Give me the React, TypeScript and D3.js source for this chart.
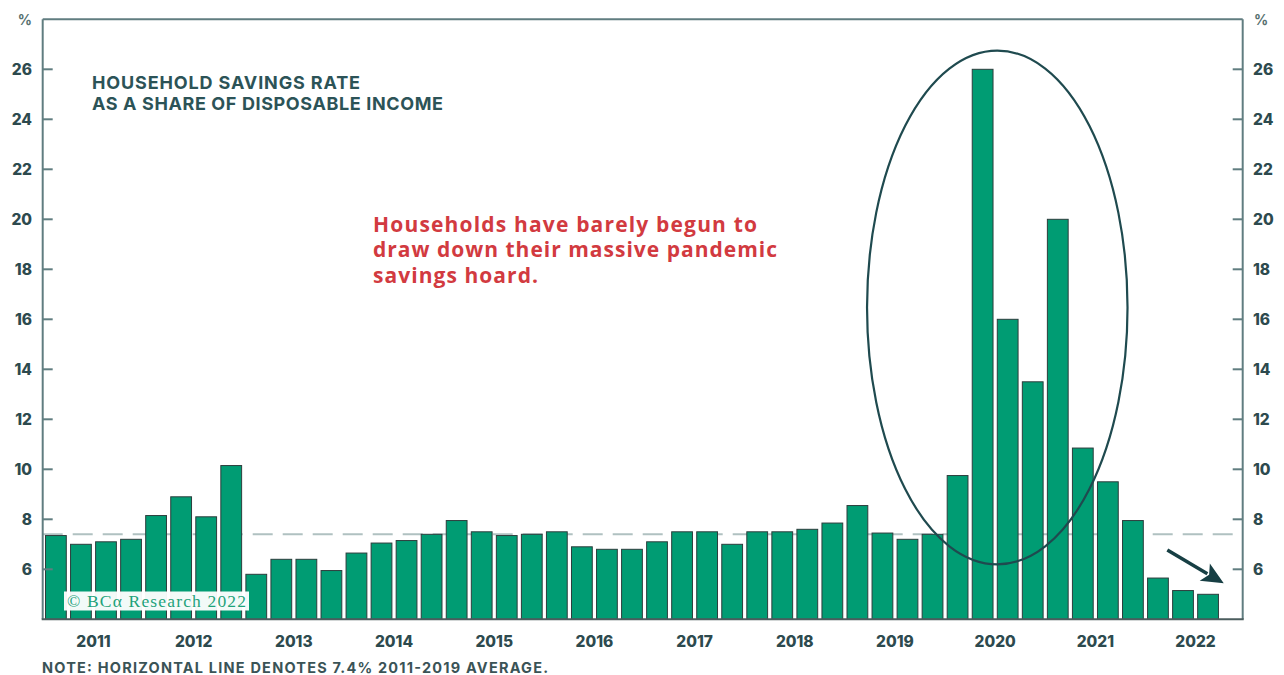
import React from "react";
import * as d3 from "d3";

// ---------- data ----------
const years = ["2011", "2012", "2013", "2014", "2015", "2016", "2017", "2018", "2019", "2020", "2021", "2022"];
const quarterNames = ["Q1", "Q2", "Q3", "Q4"];
// Household savings rate, % of disposable income, 2011Q1 .. 2022Q3
const savingsRate = [
  7.35, 7.0, 7.1, 7.2,
  8.15, 8.9, 8.1, 10.15,
  5.8, 6.4, 6.4, 5.95,
  6.65, 7.05, 7.15, 7.4,
  7.95, 7.5, 7.35, 7.4,
  7.5, 6.9, 6.8, 6.8,
  7.1, 7.5, 7.5, 7.0,
  7.5, 7.5, 7.6, 7.85,
  8.55, 7.45, 7.2, 7.4,
  9.75, 26.0, 16.0, 13.5,
  20.0, 10.85, 9.5, 7.95,
  5.65, 5.15, 5.0,
];
const yTicks = [6, 8, 10, 12, 14, 16, 18, 20, 22, 24, 26];
const yDomain = [4, 28];
const averageRate = 7.4;
const titleLines = ["HOUSEHOLD SAVINGS RATE", "AS A SHARE OF DISPOSABLE INCOME"];
const annotationLines = ["Households have barely begun to", "draw down their massive pandemic", "savings hoard."];
const noteText = "NOTE: HORIZONTAL LINE DENOTES 7.4% 2011-2019 AVERAGE.";
const creditText = "© BCα Research 2022";
const unitLabel = "%";

// ---------- layout ----------
const W = 1284;
const H = 675;
const left = 42.7;
const right = 1242.7;
const top = 19.3;
const bottom = 619.3;

const slots = years.flatMap((yr) => quarterNames.map((q) => `${yr}${q}`));

const COLORS = {
  bar: "#009c73",
  barStroke: "#2c3d3c",
  axis: "#607d80",
  text: "#2d4a4e",
  title: "#2c5357",
  red: "#d23a40",
  ellipse: "#1f4a4f",
  arrow: "#173f44",
  avg: "#b0c1c1",
  credit: "#1ea27a",
};

const FONT = "Inter, 'Noto Sans', sans-serif";

export default function App() {
  const x = d3.scaleBand<string>().domain(slots).range([43, 1246]).paddingInner(0.17).paddingOuter(0.1);
  const y = d3.scaleLinear().domain(yDomain).range([bottom, top]);
  const bw = x.bandwidth();
  const step = x.step();

  const yearCenters = years.map((yr) => {
    const a = x(`${yr}Q1`)!;
    const b = x(`${yr}Q4`)! + bw;
    return { yr, cx: (a + b) / 2 };
  });

  // ellipse around pandemic bars
  const ex = x("2020Q3")!;
  const eTop = y(26.75);
  const eBot = y(6.2);
  const erx = step * 5.2;

  // arrow
  const ax1 = x("2022Q1")! + bw * 0.95;
  const ay1 = y(6.77);
  const ax2 = x("2022Q4")! + bw * 0.05;
  const ay2 = y(5.44);
  const ang = Math.atan2(ay2 - ay1, ax2 - ax1);
  const headLen = 22;
  const headW = 10;
  const bx = ax2 - headLen * Math.cos(ang);
  const by = ay2 - headLen * Math.sin(ang);
  const px = -Math.sin(ang);
  const py = Math.cos(ang);
  const headPts = [
    [ax2, ay2],
    [bx + px * headW, by + py * headW],
    [bx + 5 * Math.cos(ang), by + 5 * Math.sin(ang)],
    [bx - px * headW, by - py * headW],
  ]
    .map((p) => p.join(","))
    .join(" ");

  return (
    <svg width={W} height={H} style={{ position: "absolute", left: 0, top: 0, background: "#fff" }}>
      {/* average line */}
      <line
        x1={left}
        x2={right}
        y1={y(averageRate)}
        y2={y(averageRate)}
        stroke={COLORS.avg}
        strokeWidth={2}
        strokeDasharray="20 10"
      />

      {/* bars */}
      {savingsRate.map((v, i) => (
        <rect
          key={slots[i]}
          x={x(slots[i])}
          y={y(v)}
          width={bw}
          height={y(yDomain[0]) - y(v)}
          fill={COLORS.bar}
          stroke={COLORS.barStroke}
          strokeWidth={1}
        />
      ))}

      {/* frame */}
      <line x1={left} x2={right} y1={top} y2={top} stroke={COLORS.axis} strokeWidth={2} />
      <line x1={left} x2={left} y1={top} y2={bottom} stroke={COLORS.axis} strokeWidth={2} />
      <line x1={right} x2={right} y1={top} y2={bottom} stroke={COLORS.axis} strokeWidth={2} />
      <line x1={left - 1} x2={right + 1} y1={bottom} y2={bottom} stroke="#4b5d5e" strokeWidth={2} />

      {/* y ticks */}
      {yTicks.map((t) => (
        <g key={t}>
          <line x1={left} x2={left + 10} y1={y(t)} y2={y(t)} stroke={COLORS.axis} strokeWidth={2} />
          <line x1={right - 10} x2={right} y1={y(t)} y2={y(t)} stroke={COLORS.axis} strokeWidth={2} />
          <text
            x={32}
            y={y(t)}
            textAnchor="end"
            dominantBaseline="central"
            fontFamily={FONT}
            fontWeight={800}
            fontSize={15.5}
            fill={COLORS.text}
          >
            {t}
          </text>
          <text
            x={1253}
            y={y(t)}
            textAnchor="start"
            dominantBaseline="central"
            fontFamily={FONT}
            fontWeight={800}
            fontSize={15.5}
            fill={COLORS.text}
          >
            {t}
          </text>
        </g>
      ))}
      <text x={32} y={y(yDomain[1])} textAnchor="end" dominantBaseline="central" fontFamily={FONT} fontWeight={700} fontSize={14} fill="#55700f" style={{ fill: "#56706f" }}>
        {unitLabel}
      </text>
      <text x={1254} y={y(yDomain[1])} textAnchor="start" dominantBaseline="central" fontFamily={FONT} fontWeight={700} fontSize={14} style={{ fill: "#56706f" }}>
        {unitLabel}
      </text>

      {/* x labels */}
      {yearCenters.map(({ yr, cx }) => (
        <text key={yr} x={cx} y={647} textAnchor="middle" fontFamily={FONT} fontWeight={800} fontSize={15.5} fill={COLORS.text}>
          {yr}
        </text>
      ))}

      {/* note */}
      <text x={42} y={672.5} fontFamily={FONT} fontWeight={700} fontSize={14.5} fill="#3a5356" textLength={506}>
        {noteText}
      </text>

      {/* title */}
      {titleLines.map((t, i) => (
        <text
          key={t}
          x={92}
          y={89 + i * 21}
          fontFamily={FONT}
          fontWeight={700}
          fontSize={18}
          fill={COLORS.title}
          textLength={i === 0 ? 268 : 351}
        >
          {t}
        </text>
      ))}

      {/* annotation */}
      {annotationLines.map((t, i) => (
        <text
          key={t}
          x={373}
          y={231.7 + i * 25.5}
          fontFamily="'Open Sans', sans-serif"
          fontWeight={700}
          fontSize={21}
          fill={COLORS.red}
          textLength={[384, 404, 165][i]}
        >
          {t}
        </text>
      ))}

      {/* credit */}
      <rect x={64} y={591.5} width={185} height={19} fill="#ffffff" opacity={0.95} />
      <text x={67} y={607} fontFamily="'Liberation Serif', 'DejaVu Serif', serif" fontSize={17.5} fill={COLORS.credit} textLength={179}>
        {creditText}
      </text>

      {/* ellipse */}
      <ellipse cx={ex} cy={(eTop + eBot) / 2} rx={erx} ry={(eBot - eTop) / 2} fill="none" stroke={COLORS.ellipse} strokeWidth={2.2} />

      {/* arrow */}
      <line x1={ax1} y1={ay1} x2={bx + 3 * Math.cos(ang)} y2={by + 3 * Math.sin(ang)} stroke={COLORS.arrow} strokeWidth={3.5} />
      <polygon points={headPts} fill={COLORS.arrow} />
    </svg>
  );
}
